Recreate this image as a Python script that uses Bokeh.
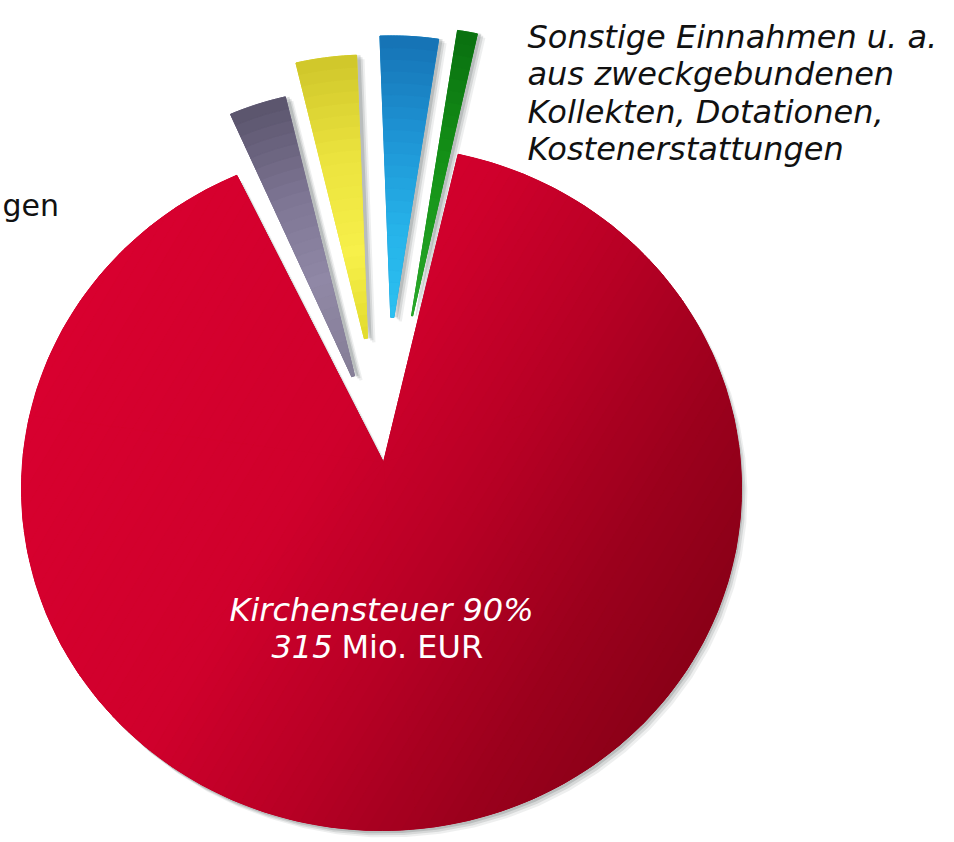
import math
import numpy as np
from bokeh.plotting import figure
from bokeh.models import Range1d
from bokeh.embed import file_html
from bokeh.resources import INLINE
from bokeh.core.properties import value

# ---------------- data ----------------
categories = ["Kirchensteuer", "Sonstige Einnahmen", "Einnahmen (blau)", "Einnahmen (gelb)", "…gen"]
shares = [90.0, 1.0, 3.0, 3.1, 2.9]          # percent, counter-clockwise order
main_label = "Kirchensteuer 90%"
amount_number = "315"
amount_unit = "Mio. EUR"
other_label_lines = ["Sonstige Einnahmen u. a.", "aus zweckgebundenen",
                     "Kollekten, Dotationen,", "Kostenerstattungen"]
left_label = "gen"

# ---------------- style / layout ----------------
W, H = 954, 842
CX, CY = 381.0, 488.0          # ellipse centre of the big slice
RX, RY = 360.0, 342.0
HUB = (383.0, 462.0)           # apex of the big slice
START = 113.7                  # angle where the first slice starts
explode = [0.0, 134.0, 130.0, 110.0, 76.0]
outer_scale = [1.0, 0.889, 0.868, 0.873, 0.883]
inner_scale = 0.045
base_colors = ["#c0002a", "#159418", "#1f98d8", "#ebe33e", "#7e7694"]
grad_stops = [
    [(0.0, "#d8002f"), (0.4, "#d0002c"), (0.62, "#b80025"), (0.82, "#9d001d"), (1.0, "#8a0017")],
    [(0.0, "#2aa82a"), (0.5, "#159418"), (1.0, "#0a7010")],
    [(0.0, "#2cc0f0"), (0.3, "#26b4ea"), (0.65, "#1e94d4"), (1.0, "#1672b4")],
    [(0.0, "#e2da2c"), (0.3, "#f7f04a"), (0.65, "#ebe33e"), (1.0, "#cfc62a")],
    [(0.0, "#857e96"), (0.35, "#9088a6"), (0.65, "#7e7694"), (1.0, "#5a546c")],
]


def hex2rgb(h):
    h = h.lstrip("#")
    return tuple(int(h[i:i + 2], 16) for i in (0, 2, 4))


def interp(stops, t):
    t = min(max(t, 0.0), 1.0)
    for (p0, c0), (p1, c1) in zip(stops[:-1], stops[1:]):
        if t <= p1:
            f = 0.0 if p1 == p0 else (t - p0) / (p1 - p0)
            a, b = hex2rgb(c0), hex2rgb(c1)
            return "#%02x%02x%02x" % tuple(int(round(a[k] + (b[k] - a[k]) * f)) for k in range(3))
    return stops[-1][1]


def clip(poly, g, t0, keep_greater):
    out = []
    n = len(poly)
    for i in range(n):
        P, Q = poly[i], poly[(i + 1) % n]
        tp = P[0] * g[0] + P[1] * g[1] - t0
        tq = Q[0] * g[0] + Q[1] * g[1] - t0
        if not keep_greater:
            tp, tq = -tp, -tq
        if tp >= 0:
            out.append(P)
        if tp * tq < 0:
            f = tp / (tp - tq)
            out.append((P[0] + (Q[0] - P[0]) * f, P[1] + (Q[1] - P[1]) * f))
    return out


# angles from the shares
total = sum(shares)
angles = []
a = START
for s in shares:
    span = 360.0 * s / total
    angles.append((a, a + span))
    a += span


def ellipse_pt(t):
    r = math.radians(t)
    return (CX + RX * math.cos(r), CY - RY * math.sin(r))


def slice_polygon(i, s_in, s_out, n=60, a0=None, a1=None):
    if a0 is None:
        a0, a1 = angles[i]
    th = np.linspace(a0, a1, n)
    if i == 0:
        return [HUB] + [ellipse_pt(t) for t in th]
    am = math.radians(sum(angles[i]) / 2)
    phi = math.atan2(RY * math.sin(am), RX * math.cos(am))
    ax = HUB[0] + explode[i] * math.cos(phi)
    ay = HUB[1] - explode[i] * math.sin(phi)
    outer = [(ax + s_out * RX * math.cos(math.radians(t)), ay - s_out * RY * math.sin(math.radians(t))) for t in th]
    inner = [(ax + s_in * RX * math.cos(math.radians(t)), ay - s_in * RY * math.sin(math.radians(t))) for t in th[::-1]]
    return outer + inner


p = figure(width=W, height=H, x_range=Range1d(0, W), y_range=Range1d(H, 0),
           output_backend="svg", toolbar_location=None,
           x_axis_location=None, y_axis_location=None, min_border=0,
           outline_line_color=None, background_fill_color="white",
           border_fill_color="white")
p.grid.visible = False

# shadows
for (dx, dy, al) in [(2, 3, 0.16), (4, 5, 0.12), (6, 7, 0.08)]:
    xs, ys = [], []
    for i in range(len(shares)):
        poly = slice_polygon(i, inner_scale, outer_scale[i])
        sx = dx + (2 if i else 0)
        sy = dy - (3 if i else 0)
        xs.append([q[0] + sx for q in poly])
        ys.append([q[1] + sy for q in poly])
    p.patches(xs, ys, fill_color="#283030", fill_alpha=al, line_color=None)

# base slices
bx, by = [], []
for i in range(len(shares)):
    poly = slice_polygon(i, inner_scale, outer_scale[i])
    bx.append([q[0] for q in poly])
    by.append([q[1] for q in poly])
p.patches(bx, by, fill_color=base_colors, line_color=base_colors, line_width=1)

# shading of big slice: linear gradient bands over convex sub-sectors
g = (0.857, 0.514)
a0, a1 = angles[0]
full = slice_polygon(0, 0, 1, n=200)
tv = [q[0] * g[0] + q[1] * g[1] for q in full]
tmin, tmax = min(tv), max(tv)
nb = 70
nsec = 6
gx, gy, gc = [], [], []
for j in range(nsec):
    b0 = a0 + (a1 - a0) * j / nsec
    b1 = a0 + (a1 - a0) * (j + 1) / nsec
    sector = slice_polygon(0, 0, 1, n=40, a0=b0, a1=b1)
    for k in range(nb):
        t0 = tmin + (tmax - tmin) * k / nb
        t1 = tmin + (tmax - tmin) * (k + 1) / nb
        band = clip(clip(sector, g, t0, True), g, t1, False)
        if len(band) >= 3:
            gx.append([q[0] for q in band])
            gy.append([q[1] for q in band])
            gc.append(interp(grad_stops[0], (k + 0.5) / nb))
p.patches(gx, gy, fill_color=gc, line_color=gc, line_width=1)

# shading of small slices: radial bands
sx_, sy_, sc_ = [], [], []
for i in range(1, len(shares)):
    m = 24
    for k in range(m):
        s0 = inner_scale + (outer_scale[i] - inner_scale) * k / m
        s1 = inner_scale + (outer_scale[i] - inner_scale) * (k + 1) / m
        poly = slice_polygon(i, s0, s1, n=20)
        sx_.append([q[0] for q in poly])
        sy_.append([q[1] for q in poly])
        sc_.append(interp(grad_stops[i], (k + 0.5) / m))
p.patches(sx_, sy_, fill_color=sc_, line_color=sc_, line_width=1)

# texts
p.text(x=[527] * 4, y=[36, 73, 111, 148], text=other_label_lines,
       text_font=value("DejaVu Sans"), text_font_style="italic", text_font_size="32px",
       text_baseline="alphabetic", text_align="left", text_color="#111111")
p.text(x=[2], y=[205], text=[left_label], text_font=value("DejaVu Sans"),
       text_font_size="30px", text_baseline="alphabetic", text_align="left",
       text_color="#111111")
p.text(x=[381], y=[609], text=[main_label], text_font=value("DejaVu Sans"),
       text_font_style="italic", text_font_size="32px", text_baseline="alphabetic",
       text_align="center", text_color="white")
p.text(x=[271], y=[646], text=[amount_number], text_font=value("DejaVu Sans"),
       text_font_style="italic", text_font_size="32px", text_baseline="alphabetic",
       text_align="left", text_color="white")
p.text(x=[341], y=[646], text=[amount_unit], text_font=value("DejaVu Sans"),
       text_font_size="32px", text_baseline="alphabetic",
       text_align="left", text_color="white")

open("out.html", "w").write(file_html(p, INLINE))
